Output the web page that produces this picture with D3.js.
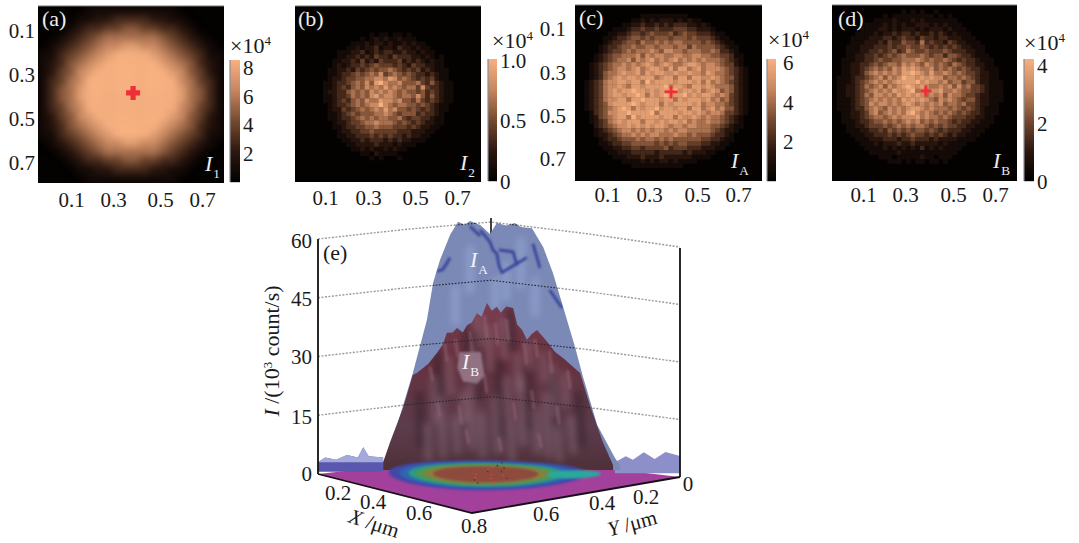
<!DOCTYPE html>
<html><head><meta charset="utf-8">
<script src="https://cdnjs.cloudflare.com/ajax/libs/d3/7.8.5/d3.min.js"></script>
<style>html,body{margin:0;padding:0;background:#fff}svg{display:block}text{font-family:"Liberation Serif",serif}</style>
</head><body><svg id="c" width="1079" height="543"></svg>
<script>
// ---------- data: heat levels 0-9 ----------
const tickLabels = [0.1, 0.3, 0.5, 0.7];
const gridA = [
"0000011111 1111100000","0000112233 3322110000","0001233445 5443321000","0012345666 6665432100",
"0123456778 8776543210","1134567899 9987654311","1235678999 9998765321","1245789999 9999875421",
"1346799999 9999976431","1356899999 9999986531","1356899999 9999986531","1346799999 9999976431",
"1245789999 9999875421","1235678999 9998765321","1134567899 9987654311","0123456778 8776543210",
"0012345666 6665432100","0001233445 5443321000","0000112233 3322110000","0000011111 1111100000"];
const gridB = ["","","","","","",
"0000000000 0000001011 0110100000 0000000000",
"0000000000 0000101212 1121110000 0000000000",
"0000000000 0011121221 2112121100 0000000000",
"0000000000 0112122312 2132212110 0000000000",
"0000000001 1122312323 3223221211 0000000000",
"0000000001 1223232433 2433322121 0100000000",
"0000000011 2232423243 3342323212 1100000000",
"0000000012 1233434544 4343243322 1100000000",
"0000000112 2324345455 6543434232 1110000000",
"0000000112 3345456574 5654543323 2110000000",
"0000000122 3445566776 8756543434 2110000000",
"0000001123 3456575897 6675556435 3211000000",
"0000001123 4356576768 6765664743 3211000000",
"0000001223 3565657676 7656554534 3211000000",
"0000001123 3465657867 7656657535 3211000000",
"0000001123 4356576687 7675546434 3211000000",
"0000000123 3456567797 6566554543 2110000000",
"0000000122 4345656768 6755454343 2110000000",
"0000000112 3454555667 6545553433 2100000000",
"0000000112 3345656566 5564344332 1100000000",
"0000000012 2344566766 6545434322 1100000000",
"0000000011 2334455655 5444343221 1000000000",
"0000000001 2233445444 4433322211 0000000000",
"0000000001 1223334343 4332322110 0000000000",
"0000000000 1122323332 3232211100 0000000000",
"0000000000 0112222322 2121110000 0000000000",
"0000000000 0011212112 1211000000 0000000000",
"0000000000 0000110211 1100000000 0000000000",
"0000000000 0000001010 0010000000 0000000000","","","","",""];
const gridC = ["","",
"0000000000 0000111111 1111000000 0000000000",
"0000000000 0011212122 2121211000 0000000000",
"0000000000 1122322323 2333221210 0000000000",
"0000000011 1233433433 3444332221 0000000000",
"0000000112 2344345444 5345443332 1100000000",
"0000001123 3455454555 4555454443 2110000000",
"0000001233 4554655656 5665555454 3211000000",
"0000012334 5565566566 6566465555 4321100000",
"0000012344 5656667657 7665666556 5332100000",
"0000123455 6667576776 6776677665 5443110000",
"0000123456 6757678676 7867676766 6543210000",
"0001234566 7676787678 7667887677 6544210000",
"0001234567 7678678876 8688678677 7654321000",
"0001235667 8778687887 7877877687 6654321000",
"0001235678 7887888678 8688688778 7655321000",
"0012346778 8788697888 8788878686 7654321000",
"0012346778 7688788889 7887688787 6665321000",
"0012346787 8898878788 8978878678 7565321000",
"0012346788 7889868789 8889787887 6764321000",
"0012346778 8688988878 8687888786 7564321000",
"0012345788 8898788868 7888878677 6654321000",
"0012345678 9868788978 8788688678 6755321000",
"0001345778 8988889688 8878878767 7644321000",
"0001245678 8697888878 8687787676 6543210000",
"0001234678 7888688787 8878676676 6543210000",
"0000234567 7878787887 6776776665 5432110000",
"0000123456 7767676776 7677666665 4322100000",
"0000122345 6676767766 6766565554 3321000000",
"0000012334 5556566565 6555555443 3211000000",
"0000011233 4455555454 5455444332 2110000000",
"0000001122 3344344445 3444333222 1100000000",
"0000000112 2233333233 3332322211 0000000000",
"0000000011 1222322232 2222211110 0000000000",
"0000000000 1111212122 1211110000 0000000000",
"0000000000 0011111111 1110000000 0000000000","","",""];
const gridD = ["",
"0000000000 0000010101 0010000000 0000000000",
"0000000000 0101111111 1101010000 0000000000",
"0000000001 1112111212 1111111000 0000000000",
"0000000111 1212121122 2121211100 0000000000",
"0000001111 2212122212 1222121110 0000000000",
"0000011112 1223233232 2323212111 0000000000",
"0000111122 2332343324 3323322211 1000000000",
"0000111222 3243354436 3433243221 1100000000",
"0001112223 3343445445 4343434322 1110000000",
"0001112233 4345346544 5444543332 2110000000",
"0001122334 3454565556 5455355433 2111000000",
"0011122334 5445566676 5655654343 3211100000",
"0011223345 4566576765 7656546543 3221100000",
"0011223456 5657687876 6756565454 3321110000",
"0011223567 6767688987 6866765654 4322110000",
"0111233456 7576798878 7877566565 4322110000",
"0111234567 6767888897 8776756645 5322111000",
"0112234656 7576789878 7667675756 4432111000",
"0112234567 6768778967 6778667655 4432111000",
"0112234657 7676878787 6767576654 4322111000",
"0111234567 6767687878 7657676545 5322111000",
"0111234576 7767678767 6767566564 4322110000",
"0111233567 6576767887 6766656545 4321110000",
"0011223467 5676768976 7656565454 3321110000",
"0011223456 6567677786 7665654443 3221100000",
"0011123345 5656567675 6565543433 2211100000",
"0001122344 4545656566 5454544332 2111000000",
"0001112233 4354545455 4543433322 1110000000",
"0000111223 3343434544 3434323221 1100000000",
"0000011122 2333233433 3232222111 1000000000",
"0000001112 1222322322 2221211110 0000000000",
"0000000111 1212121213 1212111100 0000000000",
"0000000011 1111211111 1111111000 0000000000",
"0000000000 1110111112 1101110000 0000000000",
"0000000000 0011101011 0110100000 0000000000","","","",""];
const heatStops = ["#000000","#2c170f","#74492f","#c4855f","#f7b080"];

// panel (e): silhouettes, [across 0-1, I in 10^3 count/s]
const profileA = [[.18,3],[.213,10.7],[.262,25.7],[.301,39.2],[.318,48.6],[.337,54.4],[.365,60.8],[.387,64.1],[.405,63.4],[.42,64.3],[.448,63.3],[.475,61],[.494,63.8],[.52,63.2],[.544,63.8],[.56,62.8],[.591,62.5],[.622,57.7],[.649,51.1],[.677,42.5],[.71,32.3],[.732,24.7],[.771,12.5],[.82,4.1],[.834,2.3]];
const profileB = [[.18,3],[.199,8.1],[.235,16.8],[.262,25.2],[.273,25.7],[.305,28],[.329,30.8],[.345,33],[.356,35.9],[.372,36],[.384,37.1],[.40,36],[.412,37.9],[.425,38.5],[.439,40.9],[.452,40],[.467,43.5],[.48,41.5],[.494,42.5],[.505,41],[.52,42.6],[.539,42.2],[.55,38],[.564,36.6],[.577,34.1],[.59,35.5],[.605,36.6],[.62,35],[.633,33.6],[.655,31],[.677,29.5],[.724,25.7],[.751,17.5],[.787,8.1],[.815,2.3]];
const creasesA = [[[.448,62],[.462,60.5],[.475,59],[.483,57],[.494,56],[.50,53],[.508,51.2],[.54,53],[.577,55]],[[.50,57],[.539,56.5],[.55,53]],[[.329,51.5],[.345,52],[.365,55]],[[.64,46.8],[.674,42.2]],[[.594,58.5],[.613,52.4]],[[.42,63],[.448,60.5]]];
const glintsA = [[.52,54,44],[.49,50,42],[.56,60,47],[.42,58,46],[.60,50,40],[.38,48,38]];
const glintsB = [[.30,12,4],[.34,19,5],[.38,14,6],[.42,22,7],[.45,15,5],[.49,19,6],[.53,13,4],[.56,24,8],[.60,16,6],[.63,20,5],[.66,12,4],[.70,14,6],[.36,29,21],[.40,20,14],[.47,37,27],[.51,39,30],[.55,30,22],[.62,30,24],[.68,25,18],[.44,40,33],[.58,33,27],[.32,24,14],[.52,24,15],[.43,31,24],[.65,27,15]];
const shadesB = [[.33,30,17],[.44,35,20],[.58,27,12],[.65,25,12],[.50,28,10],[.28,20,8],[.72,20,8],[.41,36,25],[.53,41,32]];
const flecksB = [[.31,27,24],[.35,33,29],[.38,34,30],[.42,36,31],[.46,40,35],[.49,38,33],[.52,39,34],[.57,33,28],[.60,34,30],[.64,31,26],[.69,26,22],[.33,18,15],[.39,17,13],[.46,25,21],[.54,18,14],[.59,21,17],[.66,17,13],[.41,11,8],[.50,9,6],[.61,10,7]];
const patchB = [[.39,31],[.45,31],[.46,25],[.44,23],[.40,23.5],[.385,27]];
const noiseBack = [[0,3],[.02,4.2],[.05,3.6],[.08,4.8],[.11,4.2],[.125,6.8],[.14,4.5],[.18,4.2],[.82,3],[.85,4.5],[.87,3.6],[.90,5.5],[.93,3.8],[.96,5.6],[1,4.6]];
const zTicks = [0,15,30,45,60];
const xTicks3d = [.2,.4,.6,.8];
const yTicks3d = [0,.2,.4,.6];
const contourRadii = [.31,.275,.245,.22,.195,.165];
const contourColors = ["#4048a8","#2f66b0","#2d9a86","#4f984e","#85803f","#8f4a3e"];
const floorSpecks = [[.16,.12],[.22,.22],[.27,.29],[.33,.33],[.30,.26],[.38,.38],[.42,.47],[.36,.31],[.25,.20],[.44,.42],[.41,.34],[.34,.41],[.20,.18],[.29,.36],[.37,.44],[.24,.26]];
const cyanBlob = [.50,.15,.085];

// ---------- helpers ----------
const svg = d3.select("#c");
const defs = svg.append("defs");
const fl = (id,s)=>defs.append("filter").attr("id",id).attr("filterUnits","userSpaceOnUse").attr("x",0).attr("y",0).attr("width",1079).attr("height",543)
  .attr("color-interpolation-filters","sRGB").append("feGaussianBlur").attr("stdDeviation",s);
fl("b35",3.6); fl("b05",.55); fl("b1",1.1); fl("b3",3);
const heatColor = d3.scaleLinear().domain(d3.range(5).map(i=>i/4)).range(heatStops).interpolate(d3.interpolateRgb);
const parse = (g,n)=>g.map(s=>s.replace(/ /g,"").padEnd(n,"0").split("").map(Number));
const serif = (sel,size,fill)=>sel.attr("font-size",size).attr("fill",fill||"#1a1a1a");
function times10(g,x,y){
  const t=serif(g.append("text").attr("x",x).attr("y",y+6),22);
  t.append("tspan").text("×10");
  t.append("tspan").attr("font-size",13).attr("dy",-8).text("4");
}
function subscripted(g,x,y,sub,size,fill){
  const t=serif(g.append("text").attr("x",x).attr("y",y),size,fill);
  t.append("tspan").attr("font-style","italic").text("I");
  t.append("tspan").attr("font-size",size*.6).attr("dy",size*.3).attr("dx",1).text(sub);
}
function labelAxis(g,axis,tx,ty,anchor){
  const a=g.append("g").attr("transform",`translate(${tx},${ty})`).call(axis);
  a.select(".domain").remove(); a.selectAll("line").remove();
  a.selectAll("text").attr("font-family","Liberation Serif").attr("font-size",21).attr("fill","#1a1a1a")
   .attr("x",0).attr("y",0).attr("dy","0.35em").attr("text-anchor",anchor);
}

// ---------- heat panels ----------
const panels = [
 {k:"a",grid:gridA,n:20,max:8.5,x0:38,x1:224,y0:6,y1:183,blur:"b35",bar:[230,240,60,182],bt:[8,6,4,2],bx:243,tx:[71,113,160,202],xy:200,ty:[30,74,118,162],yr:35,times:[230,47],lab:[42,20],sym:["1",205,171],cross:[.409,.393,7,2.6]},
 {k:"b",grid:gridB,n:40,max:1.01,x0:295,x1:481,y0:6,y1:182,blur:"b05",bar:[488,497,59,181],bt:[1,.5,0],bf:d=>d?d3.format(".1f")(d):"0",bx:500,tx:[325,368,415,457],xy:198,times:[492,42],lab:[298,20],sym:["2",460,170]},
 {k:"c",grid:gridC,n:40,max:6.15,x0:575,x1:762,y0:5,y1:181,blur:"b05",bar:[767,776,59,181],bt:[6,4,2],bx:783,tx:[607,649,697,738],xy:195,ty:[28,72,115,158],yr:566,times:[768,41],lab:[579,19],sym:["A",731,168],cross:[.411,.395,6.5,1.4]},
 {k:"d",grid:gridD,n:40,max:4.2,x0:832,x1:1017,y0:5,y1:181,blur:"b05",bar:[1024,1034,59,181],bt:[4,2,0],bx:1037,tx:[863,905,953,995],xy:195,times:[1024,44],lab:[838,20],sym:["B",993,168],cross:[.406,.391,5.5,1.4]}
];
panels.forEach(p=>{
  const g=svg.append("g").attr("class","panel-"+p.k);
  const m=parse(p.grid,p.n);
  const xb=d3.scaleBand().domain(d3.range(p.n)).range([p.x0,p.x1]);
  const yb=d3.scaleBand().domain(d3.range(p.n)).range([p.y0,p.y1]);
  defs.append("clipPath").attr("id","clip"+p.k).append("rect").attr("x",p.x0).attr("y",p.y0).attr("width",p.x1-p.x0).attr("height",p.y1-p.y0);
  g.append("rect").attr("x",p.x0).attr("y",p.y0).attr("width",p.x1-p.x0).attr("height",p.y1-p.y0).attr("fill","#030201");
  const cells=g.append("g").attr("clip-path",`url(#clip${p.k})`).append("g").attr("filter",`url(#${p.blur})`);
  m.forEach((row,r)=>row.forEach((v,c)=>{ if(v>0)
    cells.append("rect").attr("x",xb(c)).attr("y",yb(r)).attr("width",xb.bandwidth()+.4).attr("height",yb.bandwidth()+.4).attr("fill",heatColor(v/9));
  }));
  g.append("line").attr("x1",p.x0).attr("x2",p.x1).attr("y1",p.y0).attr("y2",p.y0).attr("stroke","#777").attr("stroke-width",1);
  if(p.cross){
    const cx=d3.scaleLinear([0,.8],[p.x0,p.x1])(p.cross[0]), cy=d3.scaleLinear([0,.8],[p.y0,p.y1])(p.cross[1]), h=p.cross[2], t=p.cross[3];
    g.append("path").attr("d",`M${cx-h},${cy}H${cx+h}M${cx},${cy-h}V${cy+h}`).attr("stroke","#ee2f38").attr("stroke-width",t*2).attr("fill","none");
  }
  const [bx0,bx1,by0,by1]=p.bar;
  const ys=d3.scaleLinear([0,p.max],[by1,by0]);
  g.selectAll(".bar").data(d3.range(0,by1-by0)).join("rect").attr("x",bx0).attr("width",bx1-bx0)
    .attr("y",d=>by0+d).attr("height",1.2).attr("fill",d=>heatColor(1-d/(by1-by0)));
  g.append("line").attr("x1",bx0).attr("x2",bx0).attr("y1",by0).attr("y2",by1).attr("stroke","#8a8c94").attr("stroke-width",1.2);
  labelAxis(g,d3.axisRight(ys).tickValues(p.bt).tickFormat(p.bf||d3.format("d")).tickSize(0),p.bx,0,"start");
  times10(g,p.times[0],p.times[1]);
  labelAxis(g,d3.axisBottom(d3.scaleLinear(tickLabels,p.tx)).tickValues(tickLabels).tickFormat(d3.format(".1f")).tickSize(0),0,p.xy,"middle");
  if(p.ty) labelAxis(g,d3.axisLeft(d3.scaleLinear(tickLabels,p.ty)).tickValues(tickLabels).tickFormat(d3.format(".1f")).tickSize(0),p.yr,0,"end");
  serif(g.append("text").attr("x",p.lab[0]).attr("y",p.lab[1]+6),22,"#eee").text(`(${p.k})`);
  subscripted(g,p.sym[1],p.sym[2],p.sym[0],22,"#eee");
});

// ---------- panel (e) ----------
const e=svg.append("g").attr("class","panel-e");
const L={x:318,y0:474,y60:239}, R={x:680,y0:477,y60:247}, B={x:491,y0:455,y60:222}, F={x:472,y0:513};
const zL=d3.scaleLinear([0,60],[L.y0,L.y60]), zR=d3.scaleLinear([0,60],[R.y0,R.y60]), zB=d3.scaleLinear([0,60],[B.y0,B.y60]);
const floor=(X,Y)=>{const a=X/.8,b=Y/.8;return [
  (1-a)*(1-b)*B.x+a*(1-b)*R.x+(1-a)*b*L.x+a*b*F.x,
  (1-a)*(1-b)*B.y0+a*(1-b)*R.y0+(1-a)*b*L.y0+a*b*F.y0];};
const u=d3.scaleLinear([0,1],[L.x,R.x]), zM=d3.scaleLinear([0,60],[474,238]);
const lineM=d3.line().x(d=>u(d[0])).y(d=>zM(d[1]));
const base=d3.area().x(d=>u(d[0])).y0(zM(1)).y1(d=>zM(d[1]));

const gridGroup=(col,dash,w)=>{const gg=e.append("g");
  zTicks.filter(z=>z>0).forEach(z=>gg.append("path").attr("d",d3.line()([[L.x,zL(z)],[(L.x+B.x)/2,(zL(z)+zB(z))/2-1],[B.x,zB(z)],[(R.x+B.x)/2,(zR(z)+zB(z))/2-1],[R.x,zR(z)]]))
    .attr("fill","none").attr("stroke",col).attr("stroke-width",w).attr("stroke-dasharray",dash));return gg;};
gridGroup("#9a9a9a","2 1.5",1.4);
e.append("line").attr("x1",B.x).attr("x2",B.x).attr("y1",218).attr("y2",B.y0).attr("stroke","#111").attr("stroke-width",1.6);
e.append("path").attr("d",d3.line()([[L.x,L.y0],[B.x,B.y0],[R.x,R.y0],[F.x,F.y0]])+"Z").attr("fill","#a2409c");
const noiseL=noiseBack.filter(d=>d[0]<.5), noiseR=noiseBack.filter(d=>d[0]>.5);
e.append("path").datum(noiseL).attr("d",d3.area().x(d=>u(d[0])).y0(zM(.6)).y1(d=>zM(d[1]))).attr("fill","#5a58ae").attr("filter","url(#b05)");
e.append("path").datum(noiseR).attr("d",d3.area().x(d=>u(d[0])).y0(zM(.2)).y1(d=>zM(d[1]))).attr("fill","#8d8fc8").attr("filter","url(#b05)");
e.append("path").datum(noiseL).attr("d",d3.area().x(d=>u(d[0])).y0(zM(3)).y1(d=>zM(d[1]))).attr("fill","#a3a9da").attr("filter","url(#b05)");
// I_A
e.append("path").datum(profileA).attr("d",base).attr("fill","#7a89b6").attr("filter","url(#b05)");
defs.append("clipPath").attr("id","clipA").append("path").datum(profileA).attr("d",base);
const ga=e.append("g").attr("clip-path","url(#clipA)");
ga.append("g").attr("filter","url(#b3)").selectAll("line").data(glintsA).join("line").attr("x1",d=>u(d[0])).attr("x2",d=>u(d[0])).attr("y1",d=>zM(d[1])).attr("y2",d=>zM(d[2]))
  .attr("stroke","#98a8d6").attr("stroke-width",8).attr("stroke-opacity",.6);
ga.append("g").attr("filter","url(#b1)").selectAll("path").data(creasesA).join("path").attr("d",lineM).attr("fill","none").attr("stroke","#38449a").attr("stroke-width",2.8).attr("stroke-linejoin","round");
// I_B
const gB=defs.append("linearGradient").attr("id","gb").attr("x1",0).attr("x2",0).attr("y1",0).attr("y2",1);
[[0,"#7a3e4f"],[.35,"#66323f"],[.75,"#5c3c4c"],[1,"#4e3038"]].forEach(s=>gB.append("stop").attr("offset",s[0]).attr("stop-color",s[1]));
e.append("path").datum(profileB).attr("d",base).attr("fill","url(#gb)").attr("filter","url(#b05)");
defs.append("clipPath").attr("id","clipB").append("path").datum(profileB).attr("d",base);
const gb=e.append("g").attr("clip-path","url(#clipB)");
const streaks=(data,col,w,op,blur)=>gb.append("g").attr("filter",`url(#${blur})`).selectAll("line").data(data).join("line").attr("x1",d=>u(d[0])).attr("x2",d=>u(d[0]+.006)).attr("y1",d=>zM(d[1])).attr("y2",d=>zM(d[2]))
  .attr("stroke",col).attr("stroke-width",w).attr("stroke-opacity",op).attr("stroke-linecap","round");
streaks(shadesB,"#33202a",10,.5,"b3");
streaks(glintsB,"#a08494",9,.28,"b3");
streaks(flecksB,"#9a6a7c",3.5,.45,"b1");
gb.append("path").datum(patchB).attr("d",d3.line().x(d=>u(d[0])).y(d=>zM(d[1]))).attr("fill","#927282").attr("filter","url(#b1)");
gridGroup("#2b2430","1.6 1.6",1.1).attr("clip-path","url(#clipA)");
// floor contour rings
const ringC=[.305,.335];
const ring=(cx,cy,r)=>d3.line()(d3.range(0,360,6).map(t=>floor(cx+r*Math.cos(t*Math.PI/180),cy+r*Math.sin(t*Math.PI/180))))+"Z";
const rg=e.append("g").attr("filter","url(#b1)");
contourRadii.forEach((r,i)=>{
  rg.append("path").attr("d",ring(ringC[0],ringC[1],r)).attr("fill",contourColors[i]);
  if(i===3) rg.append("path").attr("d",ring(cyanBlob[0],cyanBlob[1],cyanBlob[2])).attr("fill","#2aa89c");
});
floorSpecks.forEach((s,i)=>{const p=floor(s[0],s[1]);e.append("circle").attr("cx",p[0]).attr("cy",p[1]).attr("r",.9).attr("fill",i%2?"#d8404a":"#5a3a30");});
// edges & walls
e.append("path").attr("d",d3.line()([[L.x,L.y0],[F.x,F.y0],[R.x,R.y0]])).attr("fill","none").attr("stroke","#151015").attr("stroke-width",1.8);
e.append("line").attr("x1",L.x).attr("x2",L.x).attr("y1",L.y60).attr("y2",L.y0).attr("stroke","#111").attr("stroke-width",1.8);
e.append("line").attr("x1",R.x).attr("x2",R.x).attr("y1",R.y60+1).attr("y2",R.y0).attr("stroke","#111").attr("stroke-width",1.8);
// labels
labelAxis(e,d3.axisLeft(d3.scaleLinear(zTicks,[473,416,356,298,240])).tickValues(zTicks).tickFormat(d3.format("d")).tickSize(0),312,0,"end");
const at=(vals,pos,fmt)=>vals.forEach((v,i)=>serif(e.append("text").attr("x",pos[i][0]).attr("y",pos[i][1]).attr("dy","0.35em").attr("text-anchor","middle"),21).text(fmt(v)));
const xLabX=d3.scaleLinear(xTicks3d,[338,373,419,474]), xLabY=d3.scaleLinear(xTicks3d,[493,502,513,526]);
const yLabX=d3.scaleLinear(yTicks3d,[688,646,602,546]), yLabY=d3.scaleLinear(yTicks3d,[484,497,503,514]);
at(xTicks3d,xTicks3d.map(v=>[xLabX(v),xLabY(v)]),d3.format(".1f"));
at(yTicks3d,yTicks3d.map(v=>[yLabX(v),yLabY(v)]),d3.format(".1~f"));
const title=(x,y,rot,first)=>{const t=serif(e.append("text").attr("transform",`translate(${x},${y}) rotate(${rot})`).attr("text-anchor","middle"),21);
  t.append("tspan").attr("font-style","italic").text(first);t.append("tspan").text(" /μm");};
title(372,530,18,"X"); title(634,530,-15,"Y");
const yt=serif(e.append("text").attr("transform","translate(279,351) rotate(-90)").attr("text-anchor","middle"),22);
yt.append("tspan").attr("font-style","italic").text("I");
yt.append("tspan").text(" /(10");
yt.append("tspan").attr("font-size",13).attr("dy",-7).text("3");
yt.append("tspan").attr("dy",7).text(" count/s)");
serif(e.append("text").attr("x",323).attr("y",260),22).text("(e)");
subscripted(e,470,267,"A",22,"#f2f2f6");
subscripted(e,462,369,"B",22,"#f2f2f6");
</script></body></html>
